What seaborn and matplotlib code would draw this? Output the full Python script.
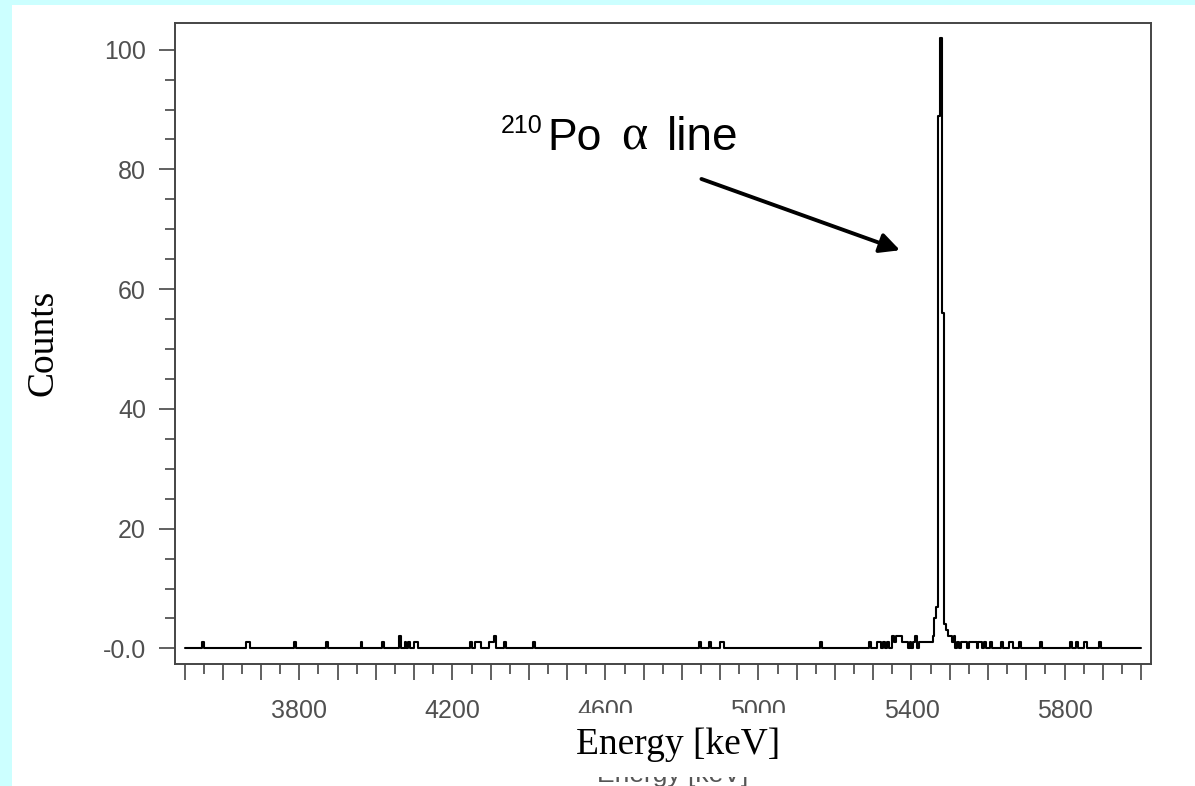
import numpy as np
import pandas as pd
import matplotlib
matplotlib.use('Agg')
import matplotlib.pyplot as plt
from matplotlib.patches import Rectangle
import seaborn as sns

sns.set_style('ticks')

# spectrum: left bin edge [keV] and counts of the non-empty 5 keV bins
bin_lo = [3545, 3660, 3665, 3785, 3870, 3960, 4015, 4060, 4075, 4085, 4100, 4105,
          4245, 4260, 4265, 4270, 4295, 4300, 4305, 4310, 4335, 4410,
          4845, 4870, 4900, 4905, 5160, 5290, 5310, 5315, 5325, 5335,
          5350, 5355, 5360, 5365, 5370, 5375, 5380, 5385, 5395, 5405, 5410,
          5420, 5425, 5430, 5435, 5440, 5445, 5450,
          5455, 5460, 5465, 5470, 5475, 5480, 5485, 5490, 5495, 5500, 5505, 5510,
          5520, 5530, 5535, 5540, 5550, 5555, 5560, 5565, 5575, 5580, 5590,
          5605, 5635, 5655, 5660, 5680, 5735, 5815, 5830, 5850, 5855, 5890]
counts = [1, 1, 1, 1, 1, 1, 1, 2, 1, 1, 1, 1,
          1, 1, 1, 1, 1, 1, 1, 2, 1, 1,
          1, 1, 1, 1, 1, 1, 1, 1, 1, 1,
          2, 1, 2, 2, 2, 1, 1, 1, 1, 1, 2,
          1, 1, 1, 1, 1, 1, 1,
          2, 5, 7, 89, 102, 56, 4, 3, 2, 2, 1, 2,
          1, 1, 1, 1, 1, 1, 1, 1, 1, 1, 1,
          1, 1, 1, 1, 1, 1, 1, 1, 1, 1, 1]
bin_width = 5
e_range = (3500, 6000)

x_major = list(range(3500, 6001, 100))
x_labelled = [3800, 4200, 4600, 5000, 5400, 5800]
y_ticks = [0, 20, 40, 60, 80, 100]
y_tick_labels = ['-0.0', '20', '40', '60', '80', '100']

W, H = 1195, 786
fig = plt.figure(figsize=(W / 100, H / 100), dpi=100, facecolor='#ccffff')
fig.patches.append(Rectangle((12 / W, 0), 1, 1 - 5 / H, transform=fig.transFigure,
                             facecolor='white', edgecolor='none', zorder=-3))
ax = fig.add_axes([175 / W, 122 / H, 976 / W, 641.3 / H])

spec = pd.DataFrame({'energy': np.array(bin_lo) + bin_width / 2, 'counts': counts})
sns.histplot(data=spec, x='energy', weights='counts', binwidth=bin_width, binrange=e_range,
             element='step', fill=False, color='black', linewidth=1.5, ax=ax)

ax.set_xlim(3475, 6026)
ax.set_ylim(-2.6, 104.5)

ax.set_xticks(x_major)
ax.set_xticklabels([str(v) if v in x_labelled else '' for v in x_major])
ax.set_xticks(np.arange(3550, 6000, 100), minor=True)
ax.set_yticks(y_ticks)
ax.set_yticklabels(y_tick_labels)
ax.set_yticks(np.arange(0, 101, 5), minor=True)

grey = '#454545'
for s in ax.spines.values():
    s.set_visible(True)
    s.set_color(grey)
    s.set_linewidth(1.4)
ax.tick_params(axis='both', which='both', direction='out', color=grey, width=1.2,
               labelcolor='#505050', labelsize=18)
ax.tick_params(axis='y', which='major', length=11.3, pad=9.5)
ax.tick_params(axis='y', which='minor', length=7.2)
ax.tick_params(axis='x', which='major', length=11.5, pad=14)
ax.tick_params(axis='x', which='minor', length=7.5)
for t in ax.get_xticklabels() + ax.get_yticklabels():
    t.set_family('Liberation Sans')

def fpos(px, py):
    return px / W, 1 - py / H

# old label of the spectrum program, mostly hidden behind the new one
fig.text(*fpos(673, 782), 'Energy [keV]', ha='center', va='baseline', fontsize=19,
         color='#555555', family='Liberation Sans', zorder=-1)
# white box pasted over the old label (it also clips two tick labels)
fig.patches.append(Rectangle(fpos(568, 777), 224 / W, 64 / H, transform=fig.transFigure,
                             facecolor='white', edgecolor='none', zorder=1))
ax.set_xlabel('')
fig.text(*fpos(678, 745), 'Energy [keV]', ha='center', va='center', fontsize=27,
         family='Liberation Serif', color='black', zorder=2)
ax.set_ylabel('Counts', family='Liberation Serif', fontsize=27, va='center', color='black')
ax.yaxis.set_label_coords((43 - 175) / 976, (664 - 343) / 641.3)

fig.text(*fpos(501, 133), '210', fontsize=18, family='Liberation Sans', va='baseline', color='black')
fig.text(*fpos(547, 150), 'Po', fontsize=32, family='Liberation Sans', va='baseline', color='black')
fig.text(*fpos(621, 150), 'α', fontsize=36, family='Liberation Serif', va='baseline', color='black')
fig.text(*fpos(667, 150), 'line', fontsize=33, family='Liberation Sans', va='baseline', color='black')

ax.annotate('', xy=(5370, 66.5), xytext=(4851, 78.4),
            arrowprops=dict(arrowstyle='-|>', lw=2.8, color='black',
                            mutation_scale=30, shrinkA=0, shrinkB=0))

fig.savefig('out.png', dpi=100, facecolor=fig.get_facecolor())
